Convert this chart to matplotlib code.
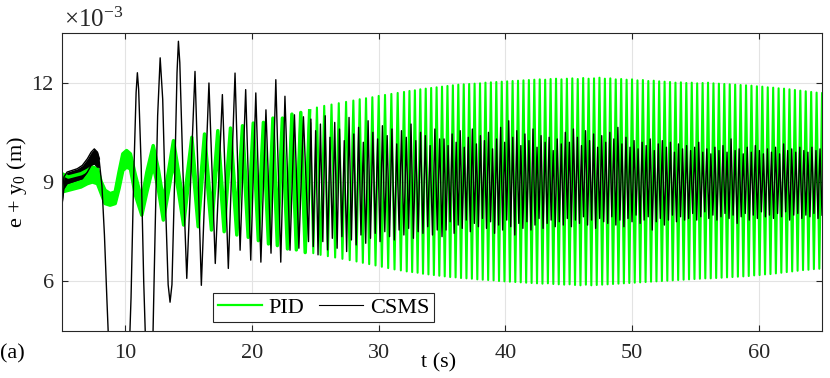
import numpy as np
import matplotlib
matplotlib.use('Agg')
import matplotlib.pyplot as plt
from matplotlib.lines import Line2D

plt.rcParams['font.family'] = ['Liberation Serif', 'DejaVu Serif']
plt.rcParams['mathtext.fontset'] = 'custom'
plt.rcParams['mathtext.rm'] = 'Liberation Serif'
plt.rcParams['axes.unicode_minus'] = False

# all values in units of 1e-3 m
# PID, noisy start (thick band) up to ~24.5 s
g_band_t = [5.0, 5.5, 6.0, 6.5, 7.0, 7.4, 7.8, 8.1, 8.4, 8.8,
            9.2, 9.5, 9.8, 10.1, 10.4, 10.8, 11.3, 11.7, 12.2, 12.6,
            13.0, 13.4, 13.8, 14.2, 14.6, 15.25, 15.75, 16.25, 16.8, 17.3,
            17.8, 18.3, 18.8, 19.25, 19.7, 20.1, 20.5, 20.9, 21.3, 21.65,
            22.0, 22.4, 22.8, 23.15, 23.5, 23.85, 24.2, 24.55]
g_band_lo = [8.70, 8.75, 8.80, 8.85, 8.95, 9.00, 8.95, 8.65, 8.35, 8.30,
             8.35, 8.80, 9.35, 9.45, 9.40, 8.60, 8.00, 8.70, 9.50, 8.80,
             7.85, 8.70, 9.60, 8.70, 7.70, 9.85, 7.65, 9.95, 7.55, 10.05,
             7.50, 10.15, 7.40, 10.25, 7.33, 10.30, 7.23, 10.35, 7.13, 10.45,
             7.08, 10.50, 6.98, 10.60, 6.95, 10.70, 6.87, 10.75]
g_band_hi = [9.25, 9.15, 9.20, 9.25, 9.35, 9.45, 9.40, 9.00, 8.75, 8.65,
             8.70, 9.30, 9.85, 9.95, 9.85, 9.20, 8.45, 9.30, 10.10, 9.40,
             8.45, 9.30, 10.25, 9.30, 8.30, 10.35, 8.15, 10.45, 8.05, 10.55,
             8.00, 10.63, 7.90, 10.70, 7.85, 10.78, 7.75, 10.80, 7.65, 10.93,
             7.55, 10.93, 7.45, 11.05, 7.40, 11.10, 7.30, 11.15]

# PID, dense oscillation: segment edges, cycles per segment, trough/peak per cycle
g_bounds = [24.55, 28.0, 32.0, 35.0, 65.0]
g_cycles = [6, 8, 7, 70]
g_troughs = [6.85, 6.80, 6.76, 6.72, 6.68, 6.64,
             6.60, 6.56, 6.52, 6.48, 6.44, 6.40, 6.36, 6.33,
             6.30, 6.28, 6.26, 6.23, 6.21, 6.19, 6.17,
             6.15, 6.13, 6.12, 6.10, 6.09, 6.08, 6.06,
             6.05, 6.04, 6.03, 6.01, 6.00, 5.99, 5.98,
             5.97, 5.96, 5.95, 5.94, 5.93, 5.94, 5.92,
             5.91, 5.90, 5.91, 5.89, 5.88, 5.90, 5.88,
             5.89, 5.90, 5.91, 5.92, 5.93, 5.94, 5.95,
             5.96, 5.97, 5.98, 5.99, 6.00, 6.01, 6.02,
             6.03, 6.04, 6.05, 6.06, 6.07, 6.08, 6.09,
             6.09, 6.10, 6.11, 6.12, 6.13, 6.14, 6.15,
             6.16, 6.18, 6.19, 6.21, 6.22, 6.24, 6.26,
             6.28, 6.30, 6.32, 6.34, 6.35, 6.37, 6.38]
g_peaks = [11.25, 11.30, 11.34, 11.38, 11.42, 11.46,
           11.50, 11.53, 11.56, 11.60, 11.63, 11.66, 11.69, 11.72,
           11.75, 11.77, 11.80, 11.82, 11.84, 11.86, 11.88,
           11.90, 11.92, 11.94, 11.95, 11.96, 11.97, 11.98,
           12.00, 12.01, 12.02, 12.03, 12.04, 12.05, 12.06,
           12.07, 12.08, 12.09, 12.10, 12.09, 12.11, 12.12,
           12.10, 12.12, 12.13, 12.11, 12.14, 12.12, 12.13,
           12.15, 12.12, 12.13, 12.10, 12.11, 12.09, 12.10,
           12.07, 12.08, 12.05, 12.06, 12.04, 12.03, 12.02,
           12.00, 12.01, 11.99, 12.00, 11.98, 11.99, 12.00,
           11.98, 11.97, 11.96, 11.95, 11.94, 11.93, 11.92,
           11.91, 11.89, 11.88, 11.86, 11.85, 11.83, 11.82,
           11.80, 11.78, 11.76, 11.74, 11.72, 11.70, 11.68]

# CSMS, noisy start (band)
b_band_t = [5.0, 5.15, 5.4, 5.8, 6.2, 6.6, 7.0, 7.3, 7.55, 7.8, 7.95]
b_band_lo = [8.30, 8.80, 8.95, 9.00, 9.05, 9.10, 9.30, 9.50, 9.55, 9.45, 9.45]
b_band_hi = [8.55, 9.15, 9.30, 9.35, 9.40, 9.50, 9.70, 9.90, 10.00, 9.90, 9.70]

# CSMS, large swings
b_t = [7.95, 8.15, 8.35, 8.55, 8.75, 9.5, 10.25, 10.45, 10.65, 10.85,
       10.95, 11.05, 11.25, 11.45, 11.65, 11.9, 12.15, 12.35, 12.55, 12.75,
       12.95, 13.15, 13.38, 13.53, 13.68, 13.9, 14.08, 14.19, 14.3, 14.55,
       14.85, 15.5, 16.0, 16.6, 17.1, 17.66, 18.13, 18.66, 19.06, 19.5,
       19.9, 20.3, 20.7, 21.1, 21.5, 21.88, 22.27, 22.6, 23.0, 23.35,
       23.7, 24.06, 24.46]
b_v = [9.6, 8.9, 7.4, 5.4, 3.5, 1.0, 3.2, 5.5, 9.0, 11.7,
       12.3, 11.8, 9.5, 6.0, 3.5, 2.0, 3.8, 7.5, 11.0, 12.75,
       11.5, 8.6, 5.9, 5.37, 5.9, 9.2, 12.3, 13.25, 12.6, 9.3,
       6.09, 12.34, 5.88, 11.99, 6.54, 11.64, 6.39, 12.29, 6.94, 11.79,
       6.64, 11.69, 6.58, 11.18, 6.85, 12.09, 6.58, 11.59, 6.94, 11.03,
       7.0, 10.97, 7.2]

# CSMS, dense part: peak/trough per cycle
b_bounds = [24.46, 35.0, 65.0]
b_cycles = [28, 94]
b_peaks = [10.90, 10.55, 10.75, 11.00, 10.35, 10.80, 10.60, 10.25, 10.95, 10.45,
           10.65, 10.20, 10.85, 10.50, 10.30, 10.70, 10.40, 10.60, 10.15, 10.55,
           10.35, 10.75, 10.25, 10.50, 10.40, 10.10, 10.60, 10.30,
           10.30, 10.10, 10.45, 10.20, 10.55, 10.05, 10.35, 10.60, 10.15, 10.40,
           10.25, 10.50, 10.00, 10.30, 10.65, 10.20, 10.85, 10.35, 10.55, 10.10,
           10.45, 10.25, 10.60, 10.05, 10.40, 10.20, 10.35, 9.95, 10.30, 10.15,
           10.50, 10.20, 10.60, 10.35, 10.10, 10.55, 10.25, 10.45, 10.05, 10.40,
           10.20, 10.50, 10.30, 10.65, 10.15, 10.35, 10.05, 10.25, 10.00, 10.20,
           10.10, 10.30, 9.95, 10.15, 10.25, 10.05, 10.20, 9.90, 10.15, 10.00,
           10.10, 9.95, 10.05, 10.20, 9.90, 10.00, 9.85, 10.05, 9.95, 10.10,
           9.90, 10.30, 9.95, 10.00, 9.85, 10.05, 9.90, 10.10, 9.95, 9.85,
           10.00, 9.90, 10.05, 9.85, 10.15, 9.95, 10.00, 9.90, 10.05, 9.95,
           9.90, 10.05, 9.95, 10.00]
b_troughs = [7.05, 6.80, 7.20, 6.95, 7.30, 7.00, 7.35, 6.90, 7.25, 7.10,
             7.40, 7.15, 7.30, 7.45, 7.20, 7.50, 7.35, 7.25, 7.55, 7.40,
             7.60, 7.30, 7.50, 7.45, 7.65, 7.40, 7.55, 7.35,
             7.55, 7.80, 7.45, 7.70, 7.60, 7.85, 7.50, 7.75, 7.65, 7.90,
             7.60, 7.80, 7.45, 7.70, 7.55, 7.85, 7.65, 7.40, 7.75, 7.60,
             7.80, 7.55, 7.70, 7.90, 7.60, 7.75, 7.85, 7.65, 7.80, 7.70,
             7.90, 7.65, 7.85, 7.75, 7.95, 7.70, 7.85, 7.60, 7.90, 7.80,
             7.75, 7.95, 7.70, 7.85, 7.65, 7.90, 7.80, 8.00, 7.75, 7.85,
             7.95, 7.55, 7.80, 7.90, 7.70, 7.85, 8.00, 7.80, 7.95, 7.85,
             7.90, 8.05, 7.85, 7.95, 8.10, 7.90, 8.00, 7.85, 7.95, 8.05,
             7.90, 8.00, 7.75, 7.95, 8.05, 7.85, 8.00, 7.90, 8.10, 7.95,
             8.00, 7.90, 8.05, 7.95, 8.10, 7.85, 8.00, 8.05, 7.90, 8.00,
             7.95, 8.05, 7.90, 8.00]


def zigzag(bounds, cycles, first, second):
    # place the two extremes of every cycle evenly inside each segment
    t, v = [], []
    k = 0
    for a, b, n in zip(bounds[:-1], bounds[1:], cycles):
        step = (b - a) / n
        for i in range(n):
            t += [a + (i + 0.5) * step, a + (i + 1) * step]
            v += [first[k], second[k]]
            k += 1
    return t, v


gt, gv = zigzag(g_bounds, g_cycles, g_troughs, g_peaks)
gt = [g_band_t[-1]] + gt
gv = [g_band_hi[-1]] + gv
bt, bv = zigzag(b_bounds, b_cycles, b_peaks, b_troughs)
bt = b_t + bt
bv = b_v + bv

green = '#00ff00'
fig = plt.figure(figsize=(8.3, 3.78), dpi=100)
ax = fig.add_axes([0.0747, 0.1243, 0.9157, 0.7884])

ax.fill_between(g_band_t, g_band_lo, g_band_hi, color=green, lw=0)
ax.plot(g_band_t, g_band_lo, color=green, lw=2.5)
ax.plot(g_band_t, g_band_hi, color=green, lw=2.5)
ax.plot(gt, gv, color=green, lw=1.5)

ax.fill_between(b_band_t, b_band_lo, b_band_hi, color='k', lw=0)
ax.plot(b_band_t, b_band_lo, color='k', lw=1.0)
ax.plot(b_band_t, b_band_hi, color='k', lw=1.0)
ax.plot(bt, bv, color='k', lw=1.0)

ax.set_xlim(5, 65)
ax.set_ylim(4.5, 13.5)
ax.set_xticks([10, 20, 30, 40, 50, 60])
ax.set_yticks([6, 9, 12])
ax.grid(True, color='#e3e3e3', lw=0.8)
ax.set_axisbelow(True)
ax.tick_params(direction='in', length=4, width=0.8, top=True, right=True,
               labelsize=16, colors='#262626')
ax.tick_params(axis='x', pad=9)
ax.tick_params(axis='y', pad=6)
for s in ax.spines.values():
    s.set_color('#262626')
    s.set_linewidth(0.8)

ax.set_ylabel('e + y$_\\mathregular{0}$ (m)', fontsize=16, labelpad=2)
fig.text(0.077, 0.948, '$\\mathregular{\\times 10^{-3}}$', fontsize=18,
         ha='left', va='center', color='#262626')
fig.text(0.528, 0.04, 't (s)', fontsize=16, ha='center', va='center')
fig.text(0.0, 0.063, '(a)', fontsize=16, ha='left', va='center')

handles = [Line2D([], [], color=green, lw=1.6), Line2D([], [], color='k', lw=0.8)]
leg = ax.legend(handles, ['PID', 'CSMS'], loc='lower left', bbox_to_anchor=(0.199, 0.03),
                ncol=2, fontsize=16, frameon=True, fancybox=False, framealpha=1,
                edgecolor='#262626', borderaxespad=0, handlelength=2.0,
                handletextpad=0.3, columnspacing=0.65, borderpad=0.2)
leg.get_frame().set_linewidth(0.8)

fig.savefig('out.png', dpi=100)
